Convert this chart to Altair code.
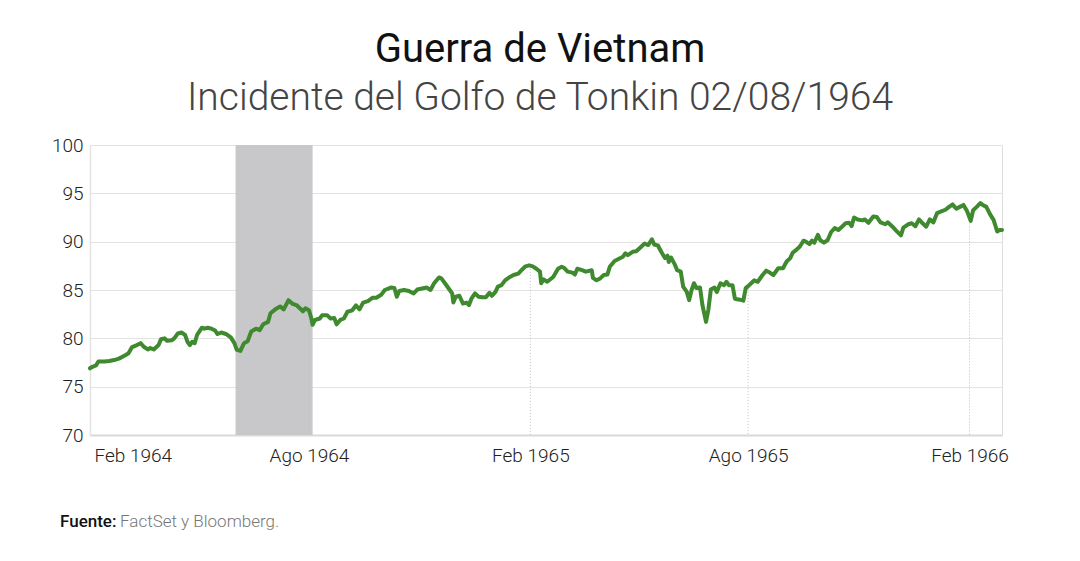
import altair as alt
import pandas as pd

# ---- data (days since 1964-02-01, index value) ----
start_date = "1964-02-01"
days = [0, 2, 5, 7, 12, 16, 20, 24, 27, 30, 32, 35, 39, 42, 45, 48, 50, 53, 57, 59,
        62, 64, 68, 70, 73, 76, 79, 81, 83, 85, 87, 89, 93, 95, 98, 101, 104, 106, 109, 113,
        117, 120, 122, 125, 128, 131, 134, 138, 141, 144, 148, 150, 154, 158, 161, 165, 168, 172, 177, 179,
        182, 184, 185, 187, 191, 193, 197, 200, 203, 205, 208, 211, 214, 218, 221, 224, 227, 231, 235, 238,
        242, 245, 250, 253, 255, 257, 261, 265, 269, 272, 276, 280, 283, 286, 290, 292, 295, 299, 301, 302,
        304, 307, 310, 313, 315, 317, 320, 323, 326, 329, 332, 334, 337, 339, 342, 345, 349, 352, 356, 359,
        362, 365, 368, 371, 374, 375, 377, 380, 385, 389, 392, 394, 397, 401, 403, 405, 409, 412, 417, 418,
        421, 424, 427, 430, 432, 436, 440, 443, 445, 447, 451, 454, 457, 461, 464, 467, 469, 472, 475, 478,
        480, 481, 483, 486, 488, 491, 493, 496, 498, 500, 502, 504, 507, 509, 512, 514, 516, 519, 521, 524,
        527, 529, 531, 534, 536, 540, 543, 545, 547, 550, 552, 555, 559, 562, 565, 568, 572, 576, 579, 582,
        584, 587, 590, 593, 595, 598, 600, 602, 605, 607, 610, 613, 616, 619, 622, 625, 628, 631, 633, 635,
        638, 642, 644, 647, 651, 654, 657, 661, 663, 667, 670, 674, 676, 680, 683, 686, 689, 692, 695, 698,
        701, 704, 708, 711, 714, 717, 720, 723, 726, 729, 732, 734, 737, 740, 742, 745, 748, 751, 754, 756,
        758]
values = [76.9, 77.06, 77.2, 77.6, 77.6, 77.65, 77.75, 77.9, 78.1, 78.3, 78.45, 79.1, 79.3, 79.5, 79.1, 78.85, 79.0, 78.85, 79.3, 79.9,
          80.0, 79.75, 79.8, 80.0, 80.5, 80.6, 80.35, 79.65, 79.3, 79.65, 79.5, 80.35, 81.1, 81.0, 81.1, 81.0, 80.8, 80.45, 80.6, 80.45,
          80.1, 79.5, 78.8, 78.7, 79.5, 79.7, 80.7, 81.0, 80.85, 81.45, 81.7, 82.6, 83.0, 83.3, 83.0, 83.95, 83.6, 83.4, 82.8, 83.1,
          82.9, 82.05, 81.4, 81.9, 82.05, 82.4, 82.4, 82.05, 82.1, 81.45, 81.9, 82.05, 82.75, 82.9, 83.4, 83.0, 83.7, 83.85, 84.2, 84.2,
          84.5, 85.0, 85.25, 85.2, 84.3, 84.9, 85.0, 84.9, 84.65, 85.05, 85.15, 85.25, 85.0, 85.7, 86.3, 86.2, 85.7, 85.0, 84.65, 83.7,
          84.3, 84.4, 83.6, 83.7, 83.45, 84.1, 84.65, 84.3, 84.25, 84.25, 84.7, 84.4, 84.8, 85.35, 85.5, 86.0, 86.35, 86.55, 86.7, 87.1,
          87.45, 87.55, 87.45, 87.2, 86.9, 85.7, 86.1, 85.85, 86.35, 87.2, 87.4, 87.3, 86.9, 86.8, 86.6, 87.2, 87.05, 86.9, 87.05, 86.25,
          86.0, 86.2, 86.55, 86.6, 87.4, 88.0, 88.25, 88.45, 88.8, 88.6, 88.95, 89.0, 89.35, 89.8, 89.65, 90.25, 89.7, 89.6, 88.9, 88.3,
          88.55, 87.9, 88.35, 87.65, 87.05, 86.9, 85.35, 84.8, 83.95, 85.0, 85.7, 85.2, 85.25, 83.45, 81.7, 83.0, 85.05, 85.25, 84.8, 85.7,
          85.5, 85.85, 85.5, 85.5, 84.1, 84.0, 83.9, 85.2, 85.4, 85.75, 86.0, 85.85, 86.55, 87.0, 86.8, 86.55, 87.25, 87.25, 87.95, 88.3,
          88.85, 89.15, 89.5, 90.1, 90.0, 89.75, 90.1, 89.9, 90.7, 90.15, 89.9, 90.15, 91.0, 91.4, 91.2, 91.55, 91.9, 91.95, 91.6, 92.5,
          92.3, 92.2, 92.3, 91.95, 92.6, 92.55, 92.0, 91.8, 92.0, 91.55, 91.15, 90.65, 91.45, 91.8, 91.9, 91.6, 92.3, 91.9, 91.55, 92.3,
          92.0, 92.95, 93.15, 93.3, 93.6, 93.85, 93.4, 93.6, 93.8, 93.15, 92.15, 93.25, 93.6, 94.0, 93.8, 93.6, 92.85, 92.25, 91.05, 91.2,
          91.2]

# shaded period around the Gulf of Tonkin incident
shade_start = ["1964-06-01"]
shade_end = ["1964-08-04"]

# x-axis tick dates and the series level where the dotted drop lines start
tick_dates = ["1964-02-01", "1964-08-01", "1965-02-01", "1965-08-01", "1966-02-01"]
drop_dates = ["1964-08-01", "1965-02-01", "1965-08-01", "1966-02-01"]
drop_values = [82.9, 87.5, 85.4, 92.2]

y_ticks = [70, 75, 80, 85, 90, 95, 100]

# ---- build tables ----
dates = (pd.Timestamp(start_date) + pd.to_timedelta(days, unit="D")).strftime("%Y-%m-%d")
df = pd.DataFrame({"date": list(dates), "value": values})
shade_df = pd.DataFrame({"start": shade_start, "end": shade_end})
drop_df = pd.DataFrame({"date": drop_dates, "value": drop_values, "base": [70] * len(drop_dates)})

def dt(s):
    y, m, d = [int(p) for p in s.split("-")]
    return alt.DateTime(year=y, month=m, date=d, utc=True)

x_scale = alt.Scale(type="utc", domain=[dt("1964-02-01"), dt("1966-02-28")], nice=False)
y_scale = alt.Scale(domain=[70, 100], nice=False, zero=False)

FONT = "Roboto"

x_axis = alt.Axis(
    values=[dt(s) for s in tick_dates],
    labelExpr="(utcmonth(datum.value) == 1 ? 'Feb' : 'Ago') + ' ' + utcyear(datum.value)",
    grid=False, ticks=False, domain=True, domainColor="#d9d9d9", domainWidth=2,
    labelFont=FONT, labelFontSize=19, labelFontWeight=300, labelColor="#222",
    labelPadding=11, labelFlush=True, labelFlushOffset=-4, title=None,
)
y_axis = alt.Axis(
    values=y_ticks, grid=True, gridColor="#e3e3e3", gridWidth=1.2,
    ticks=False, domain=True, domainColor="#e3e3e3", domainWidth=1.5,
    labelFont=FONT, labelFontSize=19, labelFontWeight=300, labelColor="#222",
    labelPadding=7, title=None,
)

shade = alt.Chart(shade_df).mark_rect(color="#c8c7c9", opacity=1).encode(
    x=alt.X("start:T", scale=x_scale, axis=x_axis),
    x2="end:T",
    y=alt.value(0),
    y2=alt.value(290),
)

drops = alt.Chart(drop_df).mark_rule(color="#bdbdbd", strokeWidth=1, strokeDash=[1, 2]).encode(
    x=alt.X("date:T", scale=x_scale),
    y=alt.Y("value:Q", scale=y_scale),
    y2="base:Q",
)

line = alt.Chart(df).mark_line(color="#3f8a2f", strokeWidth=4, strokeJoin="round", strokeCap="round").encode(
    x=alt.X("date:T", scale=x_scale, axis=x_axis),
    y=alt.Y("value:Q", scale=y_scale, axis=y_axis),
)

src_bold = alt.Chart(pd.DataFrame({"t": ["Fuente:"]})).mark_text(
    font=FONT, fontSize=17, fontWeight=500, color="#111", align="left", baseline="alphabetic"
).encode(x=alt.value(-30), y=alt.value(382), text="t:N")

src_light = alt.Chart(pd.DataFrame({"t": ["FactSet y Bloomberg."]})).mark_text(
    font=FONT, fontSize=17, fontWeight=300, color="#777", align="left", baseline="alphabetic"
).encode(x=alt.value(30), y=alt.value(382), text="t:N")

chart = alt.layer(shade, drops, line, src_bold, src_light).properties(
    width=912,
    height=290,
    autosize=alt.AutoSizeParams(type="none"),
    padding={"left": 90, "top": 145, "right": 78, "bottom": 126},
    title=alt.TitleParams(
        text="Guerra de Vietnam",
        subtitle="Incidente del Golfo de Tonkin 02/08/1964",
        anchor="middle", frame="group", dx=-6,
        font=FONT, fontSize=40, fontWeight=400, color="#111",
        subtitleFont=FONT, subtitleFontSize=39, subtitleFontWeight=300, subtitleColor="#444",
        subtitlePadding=9, offset=18,
    ),
).configure_view(stroke=None).configure(background="white")

chart.save("out.html", embed_options={"renderer": "svg", "actions": False})
